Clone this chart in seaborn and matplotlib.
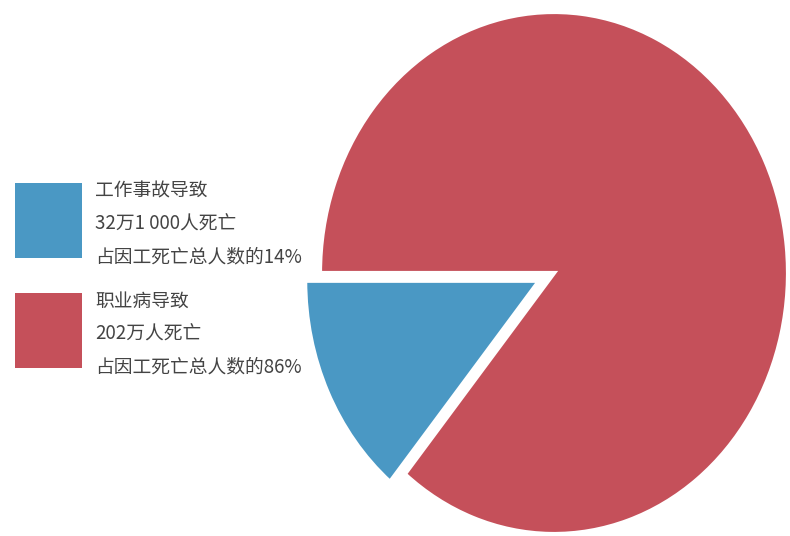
import matplotlib
matplotlib.use("Agg")
import matplotlib.pyplot as plt
import seaborn as sns
from matplotlib.patches import Rectangle

# data
causes = ["工作事故导致", "职业病导致"]
deaths = ["32万1 000人死亡", "202万人死亡"]
shares = [14, 86]
colors = ["#4a98c4", "#c5505a"]

sns.set_theme(style="white")
plt.rcParams["font.family"] = ["Noto Sans CJK SC", "DejaVu Sans"]

W, H = 790, 536
fig = plt.figure(figsize=(W / 100, H / 100), dpi=100)
fig.patch.set_facecolor("white")

# pie is slightly taller than wide in the picture
cx, cy = 554, 536 - 273
rx, ry = 234, 261
ax = fig.add_axes([(cx - rx) / W, (cy - ry) / H, 2 * rx / W, 2 * ry / H])
ax.pie(shares, colors=colors, startangle=180, counterclock=True,
       explode=[0.07, 0], radius=1,
       wedgeprops=dict(edgecolor="white", linewidth=3))
ax.set_aspect("auto")
ax.set_xlim(-1, 1)
ax.set_ylim(-1, 1)
ax.axis("off")

# legend blocks on the left
box_top = [183, 293]
for i, (cause, d, s) in enumerate(zip(causes, deaths, shares)):
    top = box_top[i]
    fig.patches.append(Rectangle((15 / W, 1 - (top + 75) / H), 67 / W, 75 / H,
                                 transform=fig.transFigure, facecolor=colors[i],
                                 edgecolor="none"))
    lines = [cause, d, f"占因工死亡总人数的{s}%"]
    for j, t in enumerate(lines):
        fig.text(95 / W, 1 - (top + 8 + j * 33) / H, t, fontsize=13.5,
                 color="#444444", va="center", ha="left")

fig.savefig("out.png", dpi=100)
